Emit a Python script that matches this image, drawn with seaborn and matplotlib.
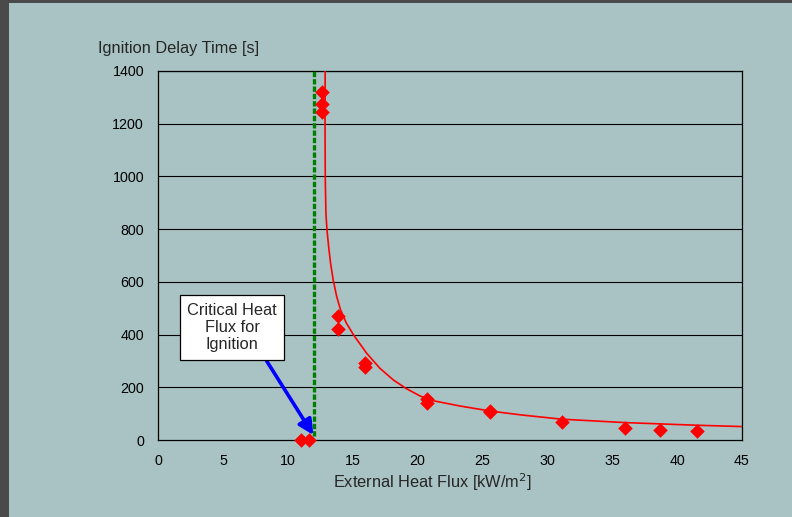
import matplotlib
matplotlib.use('Agg')
import matplotlib.pyplot as plt
import seaborn as sns
import pandas as pd
from matplotlib.patches import Rectangle

# measured points (external heat flux, ignition delay time)
heat_flux = [11.05, 11.65, 12.6, 12.6, 12.6, 13.9, 13.9, 15.95, 15.95,
             20.7, 20.7, 25.6, 25.6, 31.1, 36.0, 38.7, 41.5]
delay_time = [0, 0, 1321, 1275, 1246, 472, 420, 293, 276,
              156, 142, 110, 105, 70, 47, 38, 34]

# fitted curve
fit_flux = [12.88, 12.87, 12.89, 12.94, 13.02, 13.15, 13.3, 13.5, 13.77,
            14.07, 14.5, 15.05, 16.08, 17.1, 18.13, 19.1, 20.19, 21.2,
            23.27, 25.58, 28.0, 31.1, 36.0, 41.5, 45.0]
fit_time = [1400, 1200, 986, 860, 797, 733, 670, 607, 544,
            493, 445, 400, 329, 272, 228, 196, 167, 149,
            129, 110, 95, 79, 66, 56, 51]

critical_flux = 12.0
x_ticks = [0, 5, 10, 15, 20, 25, 30, 35, 40, 45]
y_ticks = [0, 200, 400, 600, 800, 1000, 1200, 1400]

df = pd.DataFrame({'flux': heat_flux, 'time': delay_time})
fit = pd.DataFrame({'flux': fit_flux, 'time': fit_time})

sns.set_style('white')
plt.rcParams['font.family'] = ['Liberation Sans', 'DejaVu Sans']

bg = '#a9c3c4'
fig = plt.figure(figsize=(7.92, 5.17), dpi=100, facecolor=bg)
ax = fig.add_axes([158 / 792, 1 - 440 / 517, 584 / 792, 369 / 517])
ax.set_facecolor(bg)

# dark frame on the left and top edges
fig.patches.append(Rectangle((0, 0), 9 / 792, 1, transform=fig.transFigure,
                             facecolor='#4a4a4a', edgecolor='none', zorder=0))
fig.patches.append(Rectangle((0, 1 - 3 / 517), 1, 3 / 517, transform=fig.transFigure,
                             facecolor='#4a4a4a', edgecolor='none', zorder=0))

for yv in y_ticks[1:]:
    ax.axhline(yv, color='black', lw=0.8, zorder=1)

sns.lineplot(data=fit, x='flux', y='time', sort=False, color='red', lw=1.2,
             ax=ax, zorder=3)
ax.vlines(critical_flux, 15, 1400, colors='#008000', lw=2.4,
          linestyles=(0, (1.6, 0.6)), zorder=4)
sns.scatterplot(data=df, x='flux', y='time', marker='D', color='red', s=55,
                edgecolor='red', linewidth=0, ax=ax, zorder=5, clip_on=False)

ax.annotate('', xy=(11.97, 19), xytext=(8.37, 300),
            arrowprops=dict(arrowstyle='-|>,head_width=0.45,head_length=0.9',
                            color='blue', lw=2.6, shrinkA=0, shrinkB=0),
            zorder=6)
ax.text(5.7, 427, 'Critical Heat\nFlux for\nIgnition', ha='center', va='center',
        fontsize=11.8, linespacing=1.2, zorder=7,
        bbox=dict(boxstyle='square,pad=0.45', facecolor='white',
                  edgecolor='black', lw=0.9))

ax.set_xlim(0, 45)
ax.set_ylim(0, 1400)
ax.set_xticks(x_ticks)
ax.set_yticks(y_ticks)
ax.set_xlabel('')
ax.set_ylabel('')
ax.tick_params(axis='both', direction='out', length=4, width=0.9,
               labelsize=10.3, colors='black', pad=6)
for s in ax.spines.values():
    s.set_color('black')
    s.set_linewidth(0.9)

fig.text(98 / 792, 1 - 48 / 517, 'Ignition Delay Time [s]', fontsize=11.8,
         ha='left', va='center')
fig.text(432 / 792, 1 - 482 / 517, 'External Heat Flux [kW/m$^2$]',
         fontsize=11.8, ha='center', va='center')

fig.savefig('out.png', dpi=100, facecolor=bg)
